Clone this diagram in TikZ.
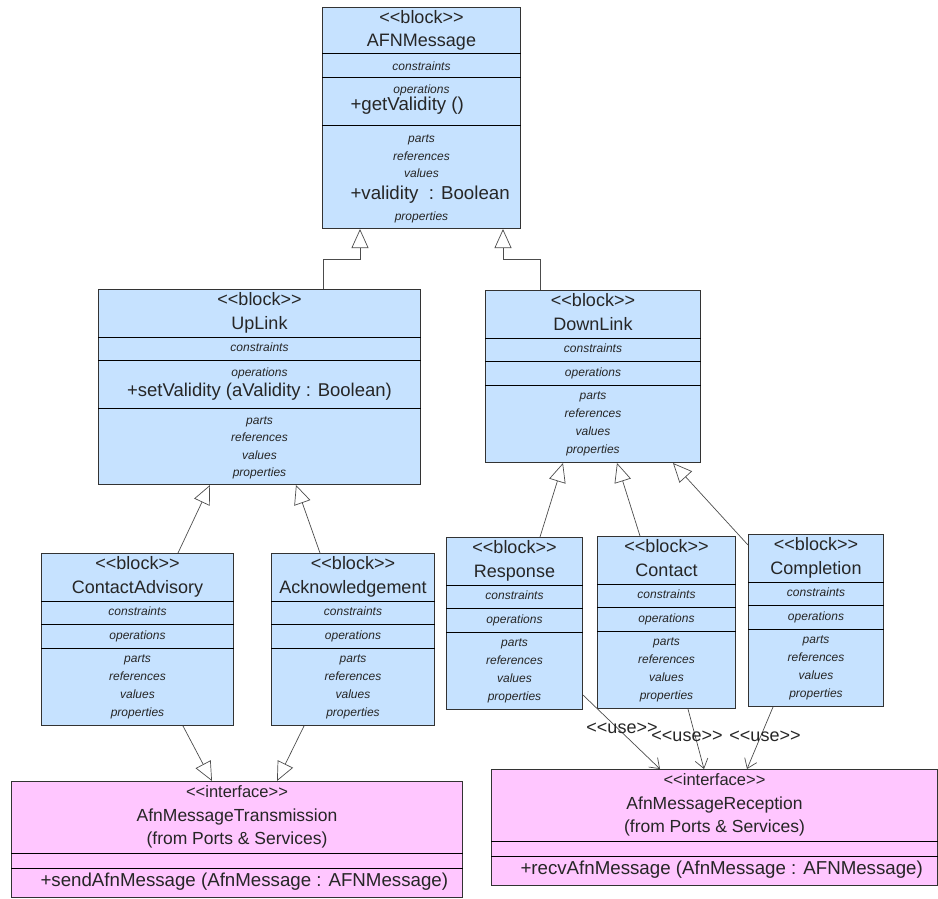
\documentclass[tikz,border=0pt]{standalone}
\usepackage{fontspec}
\setmainfont{Liberation Sans}
\usepackage{tikz}
\usetikzlibrary{calc,arrows.meta}
\definecolor{blockblue}{RGB}{198,226,255}
\definecolor{ifacepink}{RGB}{255,198,255}
\newcommand{\stype}[1]{<\kern0pt<#1>\kern0pt>}

\begin{document}
\begin{tikzpicture}[x=1pt, y=-1pt, line width=1pt,
    block/.style={draw=black!80, fill=blockblue, anchor=north west, inner sep=0pt},
    iface/.style={block, fill=ifacepink},
    big/.style={font=\fontsize{18}{20}\selectfont, text=black!85, inner sep=0pt, text height=0.7em, text depth=0.3em},
    oper/.style={big, font=\fontsize{18.7}{21}\selectfont},
    small/.style={font=\fontsize{12}{13}\selectfont\itshape, text=black!85, inner sep=0pt, text height=0.7em, text depth=0.3em},
    genarrow/.style={draw=black!70, line width=0.7pt, -{Triangle[open, length=19pt, width=17pt]}},
    usearrow/.style={draw=black!70, line width=0.7pt, -{Straight Barb[length=9pt, width=13pt]}}]
    \useasboundingbox (0,0) rectangle (938,898);
    % AFNMessage
    \node[block, minimum width=198pt, minimum height=221pt] (afn) at (322,7) {};
    \foreach \d in {46,70,118} \draw ($(afn.north west)+(0,\d)$) -- ($(afn.north east)+(0,\d)$);
    \node[big] (afn-st) at ($(afn.north)+(0,14)$) {\stype{block}};
    \node[big] (afn-nm) at ($(afn.north)+(0,37)$) {AFNMessage};
    \node[small] (afn-c) at ($(afn.north)+(0,61)$) {constraints};
    \node[small] (afn-o) at ($(afn.north)+(0,84)$) {operations};
    \node[oper, anchor=west] (afn-op) at ($(afn.north west)+(28,101)$) {+getValidity ()};
    \foreach \lb/\dy in {parts/133,references/151,values/168,properties/211}
        \node[small] (afn-\lb) at ($(afn.north)+(0,\dy)$) {\lb};
    \node[oper, anchor=west] (afn-at) at ($(afn.north west)+(28,190)$) {+validity~~: Boolean};
    % UpLink
    \node[block, minimum width=322pt, minimum height=195pt] (uplink) at (98,289) {};
    \foreach \d in {48,71,119} \draw ($(uplink.north west)+(0,\d)$) -- ($(uplink.north east)+(0,\d)$);
    \node[big] (uplink-st) at ($(uplink.north)+(0,14)$) {\stype{block}};
    \node[big] (uplink-nm) at ($(uplink.north)+(0,38)$) {UpLink};
    \node[small] (uplink-c) at ($(uplink.north)+(0,60)$) {constraints};
    \node[small] (uplink-o) at ($(uplink.north)+(0,85)$) {operations};
    \node[big, font=\fontsize{18.5}{20}\selectfont] (uplink-op) at ($(uplink.north)+(0,105)$) {+setValidity (aValidity : Boolean)};
    \foreach \lb/\dy in {parts/133,references/150,values/168,properties/185}
        \node[small] (uplink-\lb) at ($(uplink.north)+(0,\dy)$) {\lb};
    % plain blocks
    \foreach \n/\x/\y/\w/\ttl in {downlink/485/290/215/DownLink, contactadv/41/553/192/ContactAdvisory,
        ack/271/553/163/Acknowledgement, response/446/537/136/Response,
        contact/597/536/138/Contact, completion/748/534/135/Completion} {
        \node[block, minimum width=\w pt, minimum height=172pt] (\n) at (\x,\y) {};
        \foreach \d in {48,71,95} \draw ($(\n.north west)+(0,\d)$) -- ($(\n.north east)+(0,\d)$);
        \node[big] (\n-st) at ($(\n.north)+(0,14)$) {\stype{block}};
        \node[big] (\n-nm) at ($(\n.north)+(0,38)$) {\ttl};
        \node[small] (\n-c) at ($(\n.north)+(0,60)$) {constraints};
        \node[small] (\n-o) at ($(\n.north)+(0,84)$) {operations};
        \foreach \lb/\dy in {parts/107,references/125,values/143,properties/161}
            \node[small] (\n-\lb) at ($(\n.north)+(0,\dy)$) {\lb};
    }
    % interfaces
    \node[iface, minimum width=451pt, minimum height=116pt] (trans) at (11,781) {};
    \node[iface, minimum width=446pt, minimum height=116pt] (recv) at (491,769) {};
    \foreach \n/\ttl/\op in {trans/AfnMessageTransmission/send, recv/AfnMessageReception/recv} {
        \foreach \d in {72,87} \draw ($(\n.north west)+(0,\d)$) -- ($(\n.north east)+(0,\d)$);
        \node[big, font=\fontsize{16.5}{18}\selectfont] (\n-st) at ($(\n.north)+(0,14)$) {\stype{interface}};
        \node[big, font=\fontsize{17.5}{20}\selectfont] (\n-nm) at ($(\n.north)+(0,38)$) {\ttl};
        \node[big, font=\fontsize{17.5}{20}\selectfont] (\n-pk) at ($(\n.north)+(0,61)$) {(from Ports \& Services)};
        \node[oper, anchor=west] (\n-op) at ($(\n.north west)+(29,103)$) {+\op AfnMessage (AfnMessage : AFNMessage)};
    }
    % generalizations
    \draw[genarrow] ($(uplink.north west)+(225,0)$) |- ($(afn.south west)+(38,30)$) -- ($(afn.south west)+(38,0)$);
    \draw[genarrow] ($(downlink.north west)+(55,0)$) |- ($(afn.south east)+(-18,30)$) -- ($(afn.south east)+(-18,0)$);
    \draw[genarrow] ($(contactadv.north west)+(137,0)$) -- ($(uplink.south west)+(112,0)$);
    \draw[genarrow] ($(ack.north west)+(49,0)$) -- ($(uplink.south west)+(198,0)$);
    \draw[genarrow] ($(response.north west)+(94,0)$) -- ($(downlink.south west)+(78,0)$);
    \draw[genarrow] ($(contact.north west)+(43,0)$) -- ($(downlink.south west)+(132,0)$);
    \draw[genarrow] ($(completion.north west)+(0,11)$) -- ($(downlink.south west)+(188,0)$);
    \draw[genarrow] ($(contactadv.south west)+(142,0)$) -- ($(trans.north west)+(201,0)$);
    \draw[genarrow] ($(ack.south west)+(33,0)$) -- ($(trans.north west)+(266,0)$);
    % use
    \draw[usearrow] ($(response.south east)+(0,-15)$) -- ($(recv.north west)+(169,0)$);
    \draw[usearrow] ($(contact.south west)+(91,0)$) -- ($(recv.north west)+(213,0)$);
    \draw[usearrow] ($(completion.south west)+(25,0)$) -- ($(recv.north west)+(256,0)$);
    \node[big] (use1) at (622,731) {\stype{use}};
    \node[big] (use2) at (687,739) {\stype{use}};
    \node[big] (use3) at (765,739) {\stype{use}};
\end{tikzpicture}
\end{document}
